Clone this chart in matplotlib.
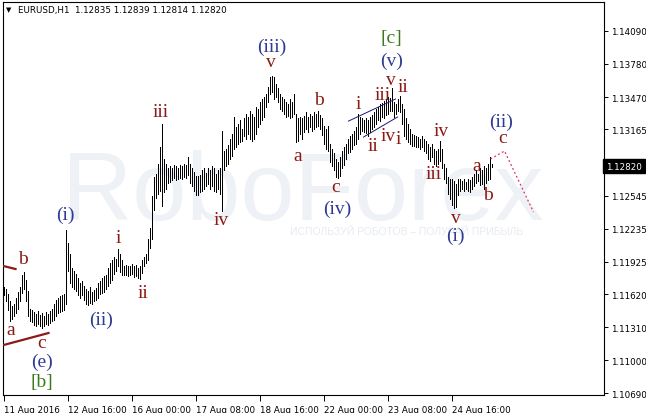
import matplotlib
matplotlib.use('Agg')
import matplotlib.pyplot as plt

# EURUSD H1 bars (high / low per hourly bar)
highs = [
    1.1169, 1.1167, 1.1162, 1.1155, 1.1151, 1.1153, 1.1158, 1.1164, 1.1169, 1.1180,
    1.1183, 1.1175, 1.1165, 1.1148, 1.1147, 1.1145, 1.1143, 1.1146, 1.1142, 1.1144,
    1.1141, 1.1145, 1.1143, 1.1146, 1.1148, 1.1153, 1.1156, 1.1158, 1.1160, 1.1161,
    1.1162, 1.1222, 1.1210, 1.1200, 1.1186, 1.1184, 1.1181, 1.1177, 1.1172, 1.1174,
    1.1170, 1.1167, 1.1165, 1.1169, 1.1164, 1.1166, 1.1168, 1.1172, 1.1174, 1.1177,
    1.1179, 1.1180, 1.1186, 1.1191, 1.1194, 1.1197, 1.1195, 1.1204, 1.1200, 1.1194,
    1.1188, 1.1189, 1.1188, 1.1188, 1.1190, 1.1188, 1.1189, 1.1186, 1.1188, 1.1194,
    1.1197, 1.1200, 1.1214, 1.1224, 1.1254, 1.1272, 1.1275, 1.1284, 1.1300, 1.1322,
    1.1289, 1.1284, 1.1280, 1.1282, 1.1280, 1.1283, 1.1282, 1.1280, 1.1283, 1.1282,
    1.1284, 1.1283, 1.1291, 1.1284, 1.1280, 1.1277, 1.1273, 1.1273, 1.1274, 1.1278,
    1.1280, 1.1276, 1.1280, 1.1278, 1.1282, 1.1280, 1.1275, 1.1278, 1.1280, 1.1315,
    1.1296, 1.1298, 1.1302, 1.1308, 1.1312, 1.1328, 1.1319, 1.1322, 1.1325, 1.1317,
    1.1327, 1.1331, 1.1328, 1.1334, 1.1331, 1.1328, 1.1338, 1.1336, 1.1342, 1.1345,
    1.1347, 1.1350, 1.1356, 1.1366, 1.1367, 1.1366, 1.1359, 1.1355, 1.1350, 1.1347,
    1.1345, 1.1342, 1.1340, 1.1345, 1.1342, 1.1350, 1.1331, 1.1327, 1.1328, 1.1327,
    1.1329, 1.1333, 1.1328, 1.1331, 1.1329, 1.1333, 1.1331, 1.1334, 1.1330, 1.1327,
    1.1320, 1.1317, 1.1320, 1.1303, 1.1298, 1.1294, 1.1289, 1.1286, 1.1291, 1.1296,
    1.1300, 1.1303, 1.1308, 1.1310, 1.1312, 1.1315, 1.1319, 1.1331, 1.1328, 1.1327,
    1.1325, 1.1327, 1.1325, 1.1328, 1.1330, 1.1333, 1.1336, 1.1338, 1.1340, 1.1341,
    1.1343, 1.1345, 1.1347, 1.1346, 1.1355, 1.1342, 1.1340, 1.1345, 1.1348, 1.1340,
    1.1336, 1.1327, 1.1322, 1.1317, 1.1312, 1.1311, 1.1310, 1.1309, 1.1308, 1.1310,
    1.1308, 1.1306, 1.1303, 1.1300, 1.1303, 1.1298, 1.1296, 1.1298, 1.1306, 1.1298,
    1.1284, 1.1280, 1.1272, 1.1270, 1.1270, 1.1268, 1.1265, 1.1270, 1.1270, 1.1268,
    1.1270, 1.1267, 1.1270, 1.1269, 1.1272, 1.1275, 1.1278, 1.1275, 1.1280, 1.1278,
    1.1282, 1.1280, 1.1284, 1.1291, 1.12839,
]
lows = [
    1.1161, 1.1155, 1.1147, 1.1137, 1.1139, 1.1141, 1.1144, 1.1148, 1.1155, 1.1163,
    1.1167, 1.1155, 1.1141, 1.1137, 1.1136, 1.1133, 1.1132, 1.1134, 1.1132, 1.1130,
    1.1132, 1.1134, 1.1133, 1.1135, 1.1137, 1.1138, 1.1141, 1.1144, 1.1145, 1.1146,
    1.1147, 1.1153, 1.1184, 1.1172, 1.1169, 1.1167, 1.1165, 1.1161, 1.1158, 1.1161,
    1.1156, 1.1153, 1.1152, 1.1154, 1.1153, 1.1155, 1.1156, 1.1158, 1.1162, 1.1163,
    1.1164, 1.1167, 1.1170, 1.1172, 1.1175, 1.1181, 1.1184, 1.1188, 1.1183, 1.1180,
    1.1180, 1.1180, 1.1179, 1.1180, 1.1181, 1.1178, 1.1179, 1.1177, 1.1176, 1.1182,
    1.1188, 1.1191, 1.1194, 1.1205, 1.1214, 1.1241, 1.1252, 1.1256, 1.1259, 1.1245,
    1.1258, 1.1261, 1.1266, 1.1267, 1.1269, 1.1271, 1.1269, 1.1270, 1.1271, 1.1270,
    1.1272, 1.1271, 1.1274, 1.1266, 1.1263, 1.1259, 1.1255, 1.1255, 1.1258, 1.1259,
    1.1261, 1.1263, 1.1265, 1.1261, 1.1263, 1.1259, 1.1258, 1.1261, 1.1256, 1.1240,
    1.1278, 1.1282, 1.1284, 1.1289, 1.1292, 1.1298, 1.1300, 1.1303, 1.1305, 1.1306,
    1.1310, 1.1308, 1.1312, 1.1308, 1.1306, 1.1308, 1.1312, 1.1319, 1.1322, 1.1325,
    1.1328, 1.1338, 1.1342, 1.1350, 1.1352, 1.1345, 1.1347, 1.1342, 1.1336, 1.1334,
    1.1331, 1.1328, 1.1329, 1.1327, 1.1328, 1.1331, 1.1305, 1.1306, 1.1312, 1.1308,
    1.1314, 1.1317, 1.1314, 1.1319, 1.1315, 1.1317, 1.1319, 1.1320, 1.1317, 1.1311,
    1.1303, 1.1298, 1.1296, 1.1286, 1.1282, 1.1278, 1.1272, 1.1271, 1.1273, 1.1280,
    1.1283, 1.1289, 1.1294, 1.1295, 1.1298, 1.1302, 1.1303, 1.1308, 1.1312, 1.1315,
    1.1314, 1.1313, 1.1310, 1.1314, 1.1317, 1.1319, 1.1322, 1.1325, 1.1324, 1.1328,
    1.1327, 1.1330, 1.1331, 1.1334, 1.1334, 1.1328, 1.1331, 1.1334, 1.1333, 1.1322,
    1.1310, 1.1308, 1.1305, 1.1303, 1.1301, 1.1301, 1.1300, 1.1300, 1.1298, 1.1300,
    1.1296, 1.1294, 1.1289, 1.1287, 1.1291, 1.1284, 1.1282, 1.1284, 1.1287, 1.1280,
    1.1270, 1.1266, 1.1256, 1.1251, 1.1246, 1.1243, 1.1244, 1.1255, 1.1259, 1.1261,
    1.1259, 1.1261, 1.1259, 1.1258, 1.1261, 1.1263, 1.1266, 1.1268, 1.1264, 1.1265,
    1.1261, 1.1266, 1.1269, 1.1270, 1.12814,
]
bars = list(range(len(highs)))

price_ticks = [1.10690, 1.11000, 1.11310, 1.11620, 1.11925, 1.12235,
               1.12545, 1.12855, 1.13165, 1.13470, 1.13780, 1.14090]
date_ticks = [0, 32, 64, 96, 128, 160, 192, 224]
date_labels = ['11 Aug 2016', '12 Aug 16:00', '16 Aug 00:00', '17 Aug 08:00',
               '18 Aug 16:00', '22 Aug 00:00', '23 Aug 08:00', '24 Aug 16:00']
last_price = 1.12820
header = 'EURUSD,H1  1.12835 1.12839 1.12814 1.12820'

red = '#8B1A14'
blue = '#2E3A94'
green = '#3A7A1E'

# wave labels: text, bar, price, colour
waves = [
    ('a', 3.5, 1.11291, red), ('b', 9.5, 1.11949, red), ('c', 19, 1.11169, red),
    ('(e)', 19.5, 1.10991, blue), ('[b]', 19, 1.10803, green),
    ('(i)', 31, 1.12371, blue), ('i', 57.5, 1.12155, red), ('(ii)', 49, 1.11385, blue),
    ('ii', 70, 1.11639, red), ('iii', 78.5, 1.13338, red), ('iv', 109, 1.12324, red),
    ('(iii)', 134, 1.13949, blue), ('v', 133.5, 1.13808, red),
    ('a', 147, 1.12925, red), ('b', 157.5, 1.13451, red), ('c', 166, 1.12625, red),
    ('(iv)', 167, 1.12428, blue),
    ('[c]', 194, 1.14033, green), ('(v)', 194, 1.13817, blue), ('v', 193.5, 1.13639, red),
    ('ii', 199.5, 1.13573, red), ('i', 177.5, 1.13413, red), ('iii', 189.5, 1.13489, red),
    ('ii', 185, 1.13010, red), ('iv', 192.5, 1.13113, red), ('i', 197.5, 1.13085, red),
    ('iv', 219, 1.13160, red), ('iii', 215, 1.12756, red), ('v', 226, 1.12343, red),
    ('(i)', 226, 1.12174, blue), ('a', 236.5, 1.12831, red), ('b', 242, 1.12550, red),
    ('c', 249.5, 1.13094, red), ('(ii)', 249, 1.13244, blue),
]

fig = plt.figure(figsize=(6.46, 4.14), dpi=100)
ax = fig.add_axes([3 / 646, 18 / 414, 601 / 646, 393 / 414])
ax.set_xlim(-0.25, 300.25)
ax.set_ylim(1.10672, 1.14362)

# watermark
ax.text(149.5, 1.12324, 'RoboForex', ha='center', va='baseline', fontsize=70,
        family='Liberation Sans', color='#EEF1F5', zorder=0)
ax.text(143.5, 1.12212, 'ИСПОЛЬЗУЙ РОБОТОВ – ПОЛУЧАЙ ПРИБЫЛЬ', ha='left', va='center',
        fontsize=7.5, family='Liberation Sans', color='#E6EAF0', zorder=0)

ax.vlines(bars, lows, highs, colors='black', linewidth=0.6, antialiased=False, zorder=2)

# trend lines
ax.plot([0, 6], [1.11883, 1.11855], color='#8B1A1A', lw=1.6, zorder=3)
ax.plot([0, 22.5], [1.11141, 1.11254], color='#8B1A1A', lw=1.6, zorder=3)
ax.plot([172.5, 196], [1.13244, 1.13451], color='#1A1A6E', lw=0.7, zorder=3)
ax.plot([180, 197], [1.13094, 1.13282], color='#1A1A6E', lw=0.7, zorder=3)
ax.plot([243.5, 250.5, 265], [1.12888, 1.12963, 1.12390], color='#E0306A',
        lw=0.9, ls=(0, (1.5, 2)), zorder=3)

for txt, xb, yp, col in waves:
    ax.text(xb, yp, txt, ha='center', va='center', fontsize=14,
            family='Liberation Serif', color=col, zorder=4)

ax.yaxis.tick_right()
ax.set_yticks(price_ticks)
ax.set_yticklabels([f'{v:.5f}' for v in price_ticks])
ax.set_xticks(date_ticks)
ax.set_xticklabels(date_labels, ha='left')
ax.tick_params(axis='y', direction='out', length=3, width=0.7, labelsize=6.3, pad=2)
ax.tick_params(axis='x', direction='out', length=4, width=0.7, labelsize=6.3, pad=3)
for s in ax.spines.values():
    s.set_linewidth(0.8)

ax.text(1.0035, last_price, f'{last_price:.5f}', transform=ax.get_yaxis_transform(),
        ha='left', va='center', fontsize=6.3, color='white', zorder=10,
        bbox=dict(boxstyle='square,pad=0.3', facecolor='black', edgecolor='black'))

fig.text(6 / 646, 1 - 10 / 414, '\u25bc', fontsize=5, va='center')
fig.text(18 / 646, 1 - 10 / 414, header, fontsize=6.3, va='center')

fig.savefig('out.png', dpi=100)
